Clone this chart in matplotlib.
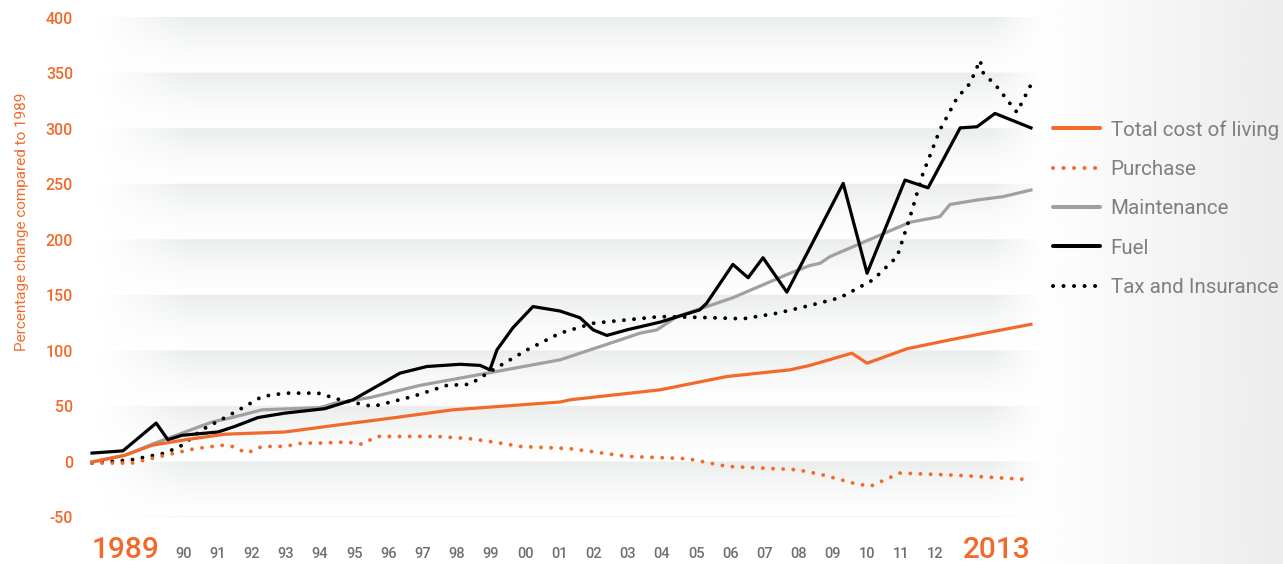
import numpy as np
import matplotlib
matplotlib.use("Agg")
import matplotlib.pyplot as plt
from matplotlib.lines import Line2D
from matplotlib import transforms

orange = "#f26a2b"
grey = "#a39f9f"
txt_grey = "#7f7f7f"

# values (year, % change vs 1989)
total_x = [1989.0, 1989.84, 1990.53, 1991.38, 1992.40, 1993.93, 1995.21, 1996.54, 1998.23,
           2000.96, 2001.22, 2003.52, 2005.23, 2006.84, 2007.35, 2008.42, 2008.81, 2009.83,
           2010.93, 2011.95, 2013.0]
total_y = [0, 6, 15, 20, 25, 27, 33, 39, 47, 54, 56, 65, 77, 83, 87, 98, 89, 102, 110, 117, 124]

purchase_x = [1989.0, 1990.02, 1990.87, 1991.63, 1992.32, 1992.58, 1992.96, 1993.35, 1993.93,
              1994.37, 1994.83, 1995.52, 1995.90, 1996.28, 1997.82, 1998.66, 1999.25, 1999.94,
              2001.22, 2002.67, 2004.21, 2005.23, 2007.02, 2007.61, 2008.45, 2008.89, 2009.65,
              2011.11, 2013.0]
purchase_y = [-1, -1, 6, 12, 15, 14, 8, 14, 14, 17, 17, 18, 16, 23, 23, 21, 18, 14, 12, 5, 3, -4,
              -7, -11, -19, -22, -10, -12, -16]

maint_x = [1989.0, 1989.84, 1990.61, 1991.38, 1992.07, 1992.58, 1993.35, 1994.83, 1995.21,
           1996.11, 1997.38, 1999.10, 2000.96, 2001.22, 2002.67, 2003.0, 2003.44, 2003.95,
           2004.80, 2005.38, 2006.84, 2007.35, 2007.61, 2007.86, 2009.91, 2010.67, 2010.93,
           2011.62, 2012.28, 2013.0]
maint_y = [0, 6, 17, 27, 36, 40, 47, 49, 53, 58, 69, 80, 92, 95, 112, 116, 119, 131, 141, 148,
           170, 177, 179, 185, 216, 221, 232, 236, 239, 245]

fuel_x = [1989.0, 1989.79, 1990.64, 1990.94, 1991.30, 1992.22, 1992.65, 1993.24, 1993.93,
          1994.95, 1995.67, 1996.87, 1997.56, 1998.41, 1998.92, 1999.17, 1999.35, 1999.76,
          2000.27, 2000.96, 2001.47, 2001.81, 2002.16, 2002.67, 2003.52, 2004.53, 2004.71,
          2005.38, 2005.77, 2006.15, 2006.76, 2007.35, 2008.20, 2008.81,
          2009.78, 2010.37, 2011.19, 2011.62, 2012.08, 2013.0]
fuel_y = [8, 10, 35, 20, 24, 27, 32, 40, 44, 48, 56, 80, 86, 88, 87, 83, 101, 121, 140, 136,
          130, 119, 114, 119, 126, 137, 143, 178, 166, 184, 153, 193, 251, 170, 254,
          247, 301, 302, 314, 301]

tax_x = [1989.0, 1990.02, 1990.87, 1991.30, 1991.81, 1992.40, 1992.91, 1993.35, 1993.93,
         1994.78, 1995.34, 1996.18, 1997.20, 1998.07, 1998.66, 1999.25, 2000.12, 2000.96,
         2001.81, 2003.52, 2004.80, 2005.64, 2006.51, 2007.35, 2008.12, 2008.96, 2009.58,
         2009.91, 2010.24, 2010.67, 2011.11, 2011.44, 2011.70, 2011.77, 2012.13, 2012.64, 2013.0]
tax_y = [-1, 2, 8, 15, 29, 40, 50, 59, 62, 62, 56, 50, 59, 69, 70, 83, 101, 116, 125, 131, 130,
         129, 134, 141, 148, 164, 185, 221, 260, 299, 328, 341, 362, 351, 338, 315, 340]

year_labels = ["90", "91", "92", "93", "94", "95", "96", "97", "98", "99", "00", "01", "02",
               "03", "04", "05", "06", "07", "08", "09", "10", "11", "12"]
yticks = list(range(-50, 401, 50))

W, H = 1283, 564
fig = plt.figure(figsize=(W / 100, H / 100), dpi=100)

# soft grey fade on the right of the figure
bg = fig.add_axes([0, 0, 1, 1])
bg.set_zorder(-5)
gx = np.linspace(0, W, 600)
shade = 1 - 0.075 * np.clip((gx - 1030) / (W - 1030), 0, 1)
bg.imshow(np.tile(shade, (2, 1)), cmap="gray", vmin=0, vmax=1, aspect="auto",
          extent=(0, 1, 0, 1), interpolation="bilinear")
bg.axis("off")

x0, x1 = 1988.693, 2013.358
ax = fig.add_axes([80 / W, 1 - 530 / H, 965 / W, 520 / H])
ax.patch.set_alpha(0)
ax.set_xlim(x0, x1)
ax.set_ylim(-61.3, 407.2)

# banded background: grey at the top of each 50-step band fading downward
ny, nx = 900, 500
vv = np.linspace(400, -50, ny)
t = (np.ceil(vv / 50) * 50 - vv) / 50
t[0] = 0
av = (1 - t) ** 1.4
xx = np.linspace(x0, x1, nx)
px = 92 + (xx - 1989) * 39.125
ah = np.clip((px - 100) / 90, 0, 1) * np.clip((1045 - px) / 55, 0, 1)
img = np.zeros((ny, nx, 4))
img[..., 0] = 0.925
img[..., 1] = 0.93
img[..., 2] = 0.93
img[..., 3] = av[:, None] * ah[None, :]
ax.imshow(img, extent=(x0, x1, -50, 400), aspect="auto", origin="upper",
          interpolation="bilinear", zorder=0)

lw = 2.3
dots = (0, (0.01, 2.6))
ax.plot(maint_x, maint_y, color=grey, lw=lw, solid_joinstyle="round", zorder=2)
ax.plot(tax_x, tax_y, color="black", lw=lw + 0.5, ls=dots, dash_capstyle="round", zorder=3)
ax.plot(purchase_x, purchase_y, color=orange, lw=lw + 0.5, ls=dots, dash_capstyle="round", zorder=3)
ax.plot(fuel_x, fuel_y, color="black", lw=lw, solid_joinstyle="round", zorder=4)
ax.plot(total_x, total_y, color=orange, lw=lw, solid_joinstyle="round", zorder=5)

for s in ax.spines.values():
    s.set_visible(False)
ax.set_xticks([])
ax.set_yticks(yticks)
ax.set_yticklabels([str(v) for v in yticks], fontsize=11.5, color=orange,
                   fontfamily="Roboto", fontweight="medium")
ax.tick_params(axis="y", length=0, pad=5)

# year labels along the bottom
trans = transforms.blended_transform_factory(ax.transData, ax.transAxes)
label_pos = 1991.33 + 0.874 * np.arange(len(year_labels))
for p, lab in zip(label_pos, year_labels):
    ax.text(p, -0.054, lab, transform=trans, ha="center", va="baseline", fontsize=10.5,
            color="#6f6f6f", fontfamily="Roboto", fontweight="medium")
ax.text(1989.0, -0.054, "1989", transform=trans, ha="left", va="baseline", fontsize=21.5,
        color=orange, fontfamily="Roboto", fontweight="medium")
ax.text(2013.0, -0.054, "2013", transform=trans, ha="right", va="baseline", fontsize=21.5,
        color=orange, fontfamily="Roboto", fontweight="medium")

fig.text(22 / W, 1 - 222 / H, "Percentage change compared to 1989", rotation=90,
         ha="center", va="center", fontsize=11, color=orange, fontfamily="Roboto")

handles = [
    Line2D([], [], color=orange, lw=lw + 0.6, solid_capstyle="round"),
    Line2D([], [], color=orange, lw=lw + 0.6, ls=dots, dash_capstyle="round"),
    Line2D([], [], color=grey, lw=lw + 0.6, solid_capstyle="round"),
    Line2D([], [], color="black", lw=lw + 0.6, solid_capstyle="round"),
    Line2D([], [], color="black", lw=lw + 0.6, ls=dots, dash_capstyle="round"),
]
names = ["Total cost of living", "Purchase", "Maintenance", "Fuel", "Tax and Insurance"]
leg = fig.legend(handles, names, loc="upper left", bbox_to_anchor=(1053 / W, 1 - 120 / H),
                 frameon=False, borderpad=0, borderaxespad=0, handlelength=2.3,
                 handletextpad=0.5, labelspacing=0.99,
                 prop={"family": "Roboto", "size": 14.8})
for tx in leg.get_texts():
    tx.set_color(txt_grey)

fig.savefig("out.png", dpi=100)
